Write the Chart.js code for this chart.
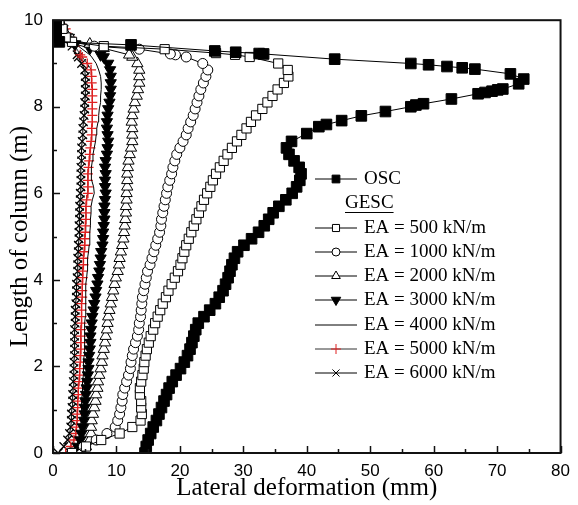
<!DOCTYPE html>
<html lang="en">
<head>
<meta charset="UTF-8">
<title>Lateral deformation of column</title>
<style>
  body { margin: 0; background: #fff; }
  #wrap { width: 578px; height: 505px; }
</style>
</head>
<body>
<div id="wrap"><canvas id="chart" width="578" height="505"></canvas></div>
<script src="https://cdn.jsdelivr.net/npm/chart.js"></script>
<script>
// heights along the column (m) where the deformations were read
const heights = [0, 0.15, 0.3, 0.45, 0.6, 0.75, 0.9, 1.05, 1.2, 1.35, 1.5, 1.65, 1.8, 1.95, 2.1, 2.25, 2.4, 2.55, 2.7, 2.85,
  3.0, 3.15, 3.3, 3.45, 3.6, 3.75, 3.9, 4.05, 4.2, 4.35, 4.5, 4.65, 4.8, 4.95, 5.1, 5.25, 5.4, 5.55, 5.7, 5.85,
  6.0, 6.15, 6.3, 6.45, 6.6, 6.75, 6.9, 7.05, 7.2, 7.35, 7.5, 7.65, 7.8, 7.95, 8.1, 8.25, 8.4, 8.55, 8.7, 8.85,
  9.0, 9.15];

// lateral deformation (mm) at those heights, then the top of each curve as [mm, m]
const oscX = [14.5, 14.7, 15.0, 15.4, 15.8, 16.3, 16.7, 17.1, 17.5, 17.9, 18.3, 18.8, 19.4, 20.1, 20.7, 21.2, 21.6, 21.9, 22.2, 22.5,
  22.9, 23.8, 24.7, 25.6, 26.2, 26.8, 27.2, 27.6, 27.9, 28.2, 28.6, 29.1, 30.1, 31.3, 32.4, 33.3, 34.0, 34.7, 35.6, 36.7,
  37.7, 38.4, 38.9, 39.1, 38.8, 38.0, 37.2, 36.8, 37.6];
const oscTop = [[40, 7.38], [41.9, 7.54], [43.1, 7.59], [45.5, 7.68], [48.6, 7.79], [52.4, 7.89], [56.4, 8.0], [57.2, 8.04],
  [58.4, 8.07], [62.8, 8.18], [67, 8.3], [68.1, 8.33], [69.2, 8.36], [70.1, 8.39], [70.9, 8.41], [73.4, 8.53], [74.2, 8.64],
  [72.1, 8.76], [66.5, 8.87], [64.5, 8.9], [62.1, 8.93], [59.2, 8.97], [56.4, 9.0], [44.4, 9.1], [33.2, 9.22], [32.5, 9.23],
  [28.8, 9.26], [25.5, 9.29], [12.3, 9.43], [1, 9.5], [0.5, 9.6], [0.5, 9.7], [0.5, 9.8], [0.5, 9.9], [0.5, 10]];

const ea500X = [3.0, 5.2, 7.6, 10.5, 12.5, 13.8, 14.0, 13.9, 13.9, 13.7, 13.7, 13.9, 14.1, 14.3, 14.4, 14.6, 14.8, 15.1, 15.4, 15.8,
  16.1, 16.5, 16.9, 17.3, 17.8, 18.2, 18.7, 19.2, 19.7, 20.1, 20.4, 20.7, 21.0, 21.4, 21.8, 22.2, 22.6, 23.0, 23.4, 23.8,
  24.3, 24.8, 25.2, 25.7, 26.3, 26.9, 27.5, 28.2, 29.0, 29.7, 30.5, 31.2, 32.0, 33.0, 33.8, 34.6, 35.4, 36.4, 37.1, 37.0,
  35.5, 31.0];
const ea500Top = [[28.7, 9.2], [25.7, 9.24], [17.6, 9.33], [8.0, 9.4], [3.0, 9.5], [2.0, 9.6], [1.5, 9.8], [1.0, 10]];

const ea1000X = [3.0, 4.8, 6.8, 8.5, 9.8, 10.2, 10.5, 10.7, 10.9, 11.0, 11.3, 11.6, 11.9, 12.2, 12.3, 12.5, 12.7, 13.0, 13.3, 13.5,
  13.6, 13.8, 13.9, 14.0, 14.1, 14.3, 14.5, 14.7, 14.9, 15.3, 15.6, 15.9, 16.2, 16.5, 16.8, 17.0, 17.1, 17.3, 17.5, 17.7,
  17.9, 18.1, 18.4, 18.7, 18.9, 19.2, 19.5, 20.0, 20.5, 21.0, 21.3, 21.7, 22.1, 22.4, 22.7, 23.0, 23.3, 23.7, 24.1, 24.4,
  23.6, 21.0];
const ea1000Top = [[19.3, 9.2], [18.5, 9.22], [13.6, 9.33], [6.5, 9.4], [3.0, 9.5], [2.0, 9.6], [1.5, 9.8], [1.0, 10]];

const ea2000X = [4.2, 5.2, 5.8, 6.0, 6.0, 6.1, 6.3, 6.5, 6.7, 6.8, 7.0, 7.1, 7.3, 7.5, 7.7, 7.8, 8.0, 8.2, 8.3, 8.5,
  8.6, 8.7, 8.9, 9.1, 9.3, 9.5, 9.7, 9.9, 10.2, 10.4, 10.5, 10.7, 10.9, 11.1, 11.2, 11.3, 11.4, 11.5, 11.5, 11.6,
  11.6, 11.7, 11.7, 11.7, 11.8, 11.9, 12.1, 12.3, 12.5, 12.5, 12.5, 12.4, 12.5, 12.7, 12.9, 13.2, 13.4, 13.6, 13.6, 13.6,
  13.3, 12.5];
const ea2000Top = [[12.0, 9.2], [8.0, 9.35], [5.8, 9.45], [3.0, 9.55], [2.0, 9.7], [1.5, 9.85], [1.0, 10]];

const ea3000X = [3.4, 3.9, 4.3, 4.5, 4.7, 4.9, 5.0, 5.0, 5.1, 5.2, 5.3, 5.4, 5.5, 5.6, 5.6, 5.7, 5.8, 5.9, 5.9, 6.0,
  6.1, 6.2, 6.4, 6.5, 6.7, 6.8, 7.0, 7.1, 7.3, 7.4, 7.5, 7.6, 7.8, 7.9, 7.9, 8.0, 8.1, 8.1, 8.1, 8.2,
  8.3, 8.2, 8.2, 8.3, 8.2, 8.3, 8.5, 8.6, 8.7, 8.6, 8.5, 8.5, 8.6, 8.7, 8.9, 9.0, 9.1, 9.1, 9.1, 9.0,
  8.7, 8.0];
const ea3000Top = [[7.5, 9.2], [5.8, 9.35], [3.5, 9.45], [2.5, 9.6], [1.5, 9.8], [1.0, 10]];

const ea4000X = [3.4, 3.7, 4.0, 4.2, 4.3, 4.4, 4.5, 4.5, 4.5, 4.6, 4.6, 4.7, 4.8, 4.8, 4.8, 4.9, 4.9, 5.0, 5.0, 5.0,
  5.0, 5.1, 5.1, 5.1, 5.2, 5.2, 5.2, 5.3, 5.4, 5.4, 5.5, 5.6, 5.7, 5.8, 5.8, 5.9, 5.9, 6.0, 6.0, 6.2,
  6.5, 6.4, 6.1, 6.0, 6.1, 6.2, 6.3, 6.5, 6.7, 6.8, 6.9, 7.1, 7.2, 7.3, 7.5, 7.5, 7.6, 7.6, 7.5, 7.2,
  6.8, 6.1];
const ea4000Top = [[5.8, 9.2], [4.0, 9.4], [2.5, 9.6], [1.5, 9.8], [0.8, 10]];

const ea5000X = [2.0, 2.8, 3.3, 3.6, 3.7, 3.8, 3.8, 3.9, 3.9, 4.0, 4.0, 4.1, 4.2, 4.2, 4.3, 4.3, 4.4, 4.4, 4.4, 4.4,
  4.5, 4.5, 4.5, 4.5, 4.6, 4.6, 4.6, 4.7, 4.7, 4.8, 4.8, 4.9, 5.0, 5.0, 5.1, 5.1, 5.2, 5.2, 5.2, 5.3,
  5.5, 5.5, 5.5, 5.5, 5.6, 5.7, 5.8, 5.9, 6.0, 6.1, 6.1, 6.2, 6.2, 6.2, 6.2, 6.2, 6.2, 6.1, 6.1, 6.0,
  5.4, 4.6];
const ea5000Top = [[4.3, 9.2], [3.5, 9.4], [2.8, 9.6], [2.0, 9.8], [1.2, 10]];

const ea6000X = [0.8, 1.7, 2.3, 2.6, 2.8, 2.9, 2.9, 3.0, 3.1, 3.1, 3.2, 3.2, 3.3, 3.3, 3.3, 3.4, 3.4, 3.4, 3.4, 3.4,
  3.5, 3.5, 3.5, 3.6, 3.7, 3.7, 3.7, 3.8, 3.9, 3.9, 3.9, 4.0, 4.0, 4.1, 4.1, 4.1, 4.2, 4.2, 4.2, 4.3,
  4.3, 4.4, 4.4, 4.4, 4.4, 4.5, 4.5, 4.5, 4.6, 4.7, 4.7, 4.8, 4.9, 5.0, 5.0, 5.1, 5.1, 5.1, 5.1, 5.0,
  4.5, 4.0];
const ea6000Top = [[3.8, 9.2], [3.0, 9.4], [2.2, 9.6], [1.5, 9.8], [0.8, 10]];

const seriesLabels = ['OSC', 'EA = 500 kN/m', 'EA = 1000 kN/m', 'EA = 2000 kN/m', 'EA = 3000 kN/m',
  'EA = 4000 kN/m', 'EA = 5000 kN/m', 'EA = 6000 kN/m'];
const groupLabel = 'GESC';
const xTicks = [0, 10, 20, 30, 40, 50, 60, 70, 80];
const yTicks = [0, 2, 4, 6, 8, 10];

function toPoints(xs, top) {
  return xs.map((x, i) => ({ x: x, y: heights[i] })).concat(top.map(p => ({ x: p[0], y: p[1] })));
}

const serif = '"Liberation Serif", "Times New Roman", serif';
const sans = '"Liberation Sans", Arial, sans-serif';

function series(label, xs, top, style) {
  return Object.assign({
    label: label,
    data: toPoints(xs, top),
    showLine: true,
    borderColor: '#000',
    borderWidth: 1,
    tension: 0,
    pointBorderColor: '#000',
    pointBorderWidth: 1,
    pointBackgroundColor: '#fff'
  }, style);
}

const datasets = [
  series(seriesLabels[0], oscX, oscTop, { pointStyle: 'rect', pointRadius: 7.5, pointBackgroundColor: '#000', legendRadius: 5.5 }),
  series(seriesLabels[1], ea500X, ea500Top, { pointStyle: 'rect', pointRadius: 6.5, legendRadius: 5 }),
  series(seriesLabels[2], ea1000X, ea1000Top, { pointStyle: 'circle', pointRadius: 5, legendRadius: 4 }),
  series(seriesLabels[3], ea2000X, ea2000Top, { pointStyle: 'triangle', pointRadius: 6.5, legendRadius: 5 }),
  series(seriesLabels[4], ea3000X, ea3000Top, { pointStyle: 'triangle', pointRotation: 180, pointRadius: 6.5, pointBackgroundColor: '#000', legendRadius: 5.5 }),
  series(seriesLabels[5], ea4000X, ea4000Top, { pointRadius: 0, legendRadius: 0 }),
  series(seriesLabels[6], ea5000X, ea5000Top, { pointStyle: 'cross', pointRadius: 5, pointBorderWidth: 1.3, pointBorderColor: '#e02020', borderColor: '#333', legendRadius: 5 }),
  series(seriesLabels[7], ea6000X, ea6000Top, { pointStyle: 'crossRot', pointRadius: 6, pointBorderWidth: 1.3, legendRadius: 5 })
];

// inward ticks and the closed frame round the plot
const framePlugin = {
  id: 'frame',
  afterDatasetsDraw(chart) {
    const ctx = chart.ctx;
    const a = chart.chartArea;
    const xs = chart.scales.x, ys = chart.scales.y;
    ctx.save();
    ctx.strokeStyle = '#111';
    ctx.lineWidth = 1.5;
    ctx.beginPath();
    for (let v = 0; v <= 80; v += 5) {
      const px = Math.round(xs.getPixelForValue(v)) + 0.5;
      const len = v % 10 === 0 ? 7 : 4;
      ctx.moveTo(px, a.bottom);
      ctx.lineTo(px, a.bottom - len);
    }
    for (let v = 0; v <= 10; v += 1) {
      const py = Math.round(ys.getPixelForValue(v)) + 0.5;
      const len = v % 2 === 0 ? 7 : 4;
      ctx.moveTo(a.left, py);
      ctx.lineTo(a.left + len, py);
    }
    ctx.stroke();
    ctx.lineWidth = 2;
    ctx.strokeRect(a.left, a.top, a.right - a.left, a.bottom - a.top);
    ctx.restore();
  }
};

// legend drawn inside the plot, with the underlined GESC group heading
const legendPlugin = {
  id: 'insideLegend',
  afterDraw(chart) {
    const ctx = chart.ctx;
    const lineL = 315, lineR = 357, textX = 364;
    const rows = [179, 228, 252, 276, 300, 325, 349, 373];
    ctx.save();
    ctx.font = '19px ' + serif;
    ctx.textBaseline = 'middle';
    chart.data.datasets.forEach((ds, i) => {
      const y = rows[i];
      ctx.strokeStyle = ds.borderColor;
      ctx.lineWidth = 1;
      ctx.beginPath();
      ctx.moveTo(lineL, y);
      ctx.lineTo(lineR, y);
      ctx.stroke();
      if (ds.legendRadius > 0) {
        ctx.fillStyle = ds.pointBackgroundColor;
        ctx.strokeStyle = ds.pointBorderColor;
        Chart.helpers.drawPoint(ctx, {
          pointStyle: ds.pointStyle,
          rotation: ds.pointRotation || 0,
          radius: ds.legendRadius,
          borderWidth: 1
        }, (lineL + lineR) / 2, y);
      }
      ctx.fillStyle = '#000';
      ctx.textAlign = 'left';
      ctx.fillText(ds.label, textX, y);
    });
    const gy = 203;
    ctx.fillText(groupLabel, 345, gy);
    const w = ctx.measureText(groupLabel).width;
    ctx.strokeStyle = '#000';
    ctx.lineWidth = 1;
    ctx.beginPath();
    ctx.moveTo(345, gy + 9.5);
    ctx.lineTo(345 + w, gy + 9.5);
    ctx.stroke();
    ctx.restore();
  }
};

new Chart(document.getElementById('chart'), {
  type: 'scatter',
  data: { datasets: datasets },
  options: {
    responsive: false,
    animation: false,
    events: [],
    layout: { padding: { top: 17, right: 11, left: 0, bottom: 0 } },
    plugins: { legend: { display: false }, tooltip: { enabled: false } },
    scales: {
      x: {
        type: 'linear',
        min: 0,
        max: 80,
        afterBuildTicks: s => { s.ticks = xTicks.map(v => ({ value: v })); },
        afterFit: s => { s.height = 52; },
        ticks: { color: '#000', font: { family: sans, size: 17 }, padding: 8, maxRotation: 0 },
        grid: { display: false, drawTicks: false },
        border: { display: false },
        title: {
          display: true,
          text: 'Lateral deformation (mm)',
          color: '#000',
          font: { family: serif, size: 25 },
          padding: { top: 0, bottom: 2 }
        }
      },
      y: {
        type: 'linear',
        min: 0,
        max: 10,
        afterBuildTicks: s => { s.ticks = yTicks.map(v => ({ value: v })); },
        afterFit: s => { s.width = 53; },
        ticks: { color: '#000', font: { family: sans, size: 17 }, padding: 10 },
        grid: { display: false, drawTicks: false },
        border: { display: false },
        title: {
          display: true,
          text: 'Length of column (m)',
          color: '#000',
          font: { family: serif, size: 25 },
          padding: { top: 5, bottom: 0 }
        }
      }
    }
  },
  plugins: [framePlugin, legendPlugin]
});
</script>
</body>
</html>
